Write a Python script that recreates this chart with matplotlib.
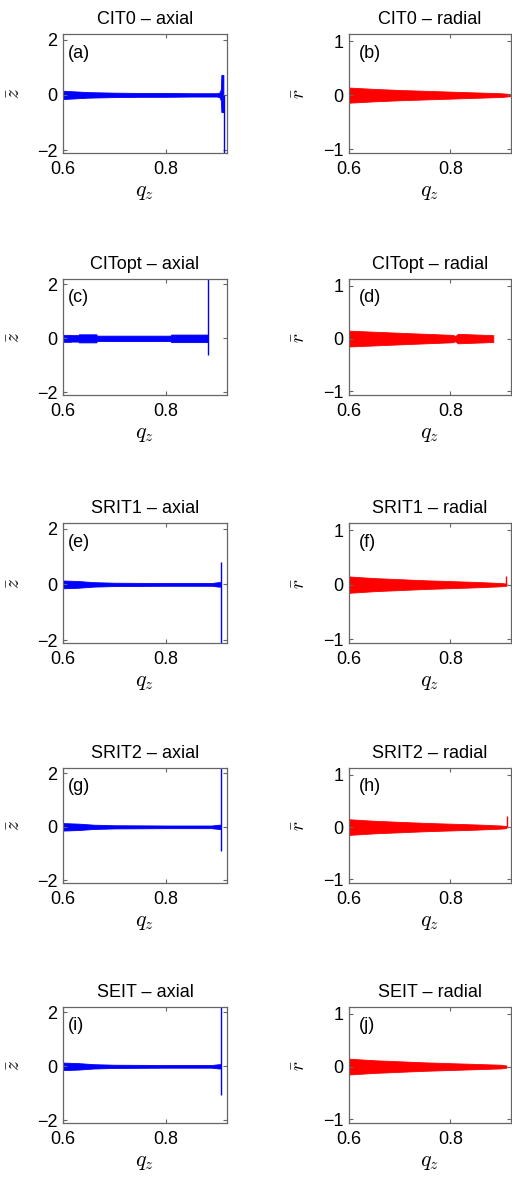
import numpy as np
import matplotlib.pyplot as plt

plt.rcParams['font.family'] = ['Liberation Sans', 'DejaVu Sans']
plt.rcParams['mathtext.fontset'] = 'cm'

# panel titles and letters
titles = ['CIT0', 'CITopt', 'SRIT1', 'SRIT2', 'SEIT']
letters_axial = ['(a)', '(c)', '(e)', '(g)', '(i)']
letters_radial = ['(b)', '(d)', '(f)', '(h)', '(j)']

# axial response envelopes (q_z, upper, lower)
qz_a = [0.600, 0.620, 0.650, 0.700, 0.750, 0.800, 0.850, 0.900, 0.905, 0.908, 0.909, 0.913]
up_a = [0.15, 0.13, 0.10, 0.08, 0.07, 0.07, 0.06, 0.06, 0.08, 0.20, 0.72, 0.72]
lo_a = [-0.15, -0.13, -0.10, -0.08, -0.07, -0.07, -0.06, -0.06, -0.08, -0.20, -0.62, -0.62]

qz_c = [0.600, 0.615, 0.616, 0.630, 0.631, 0.665, 0.666, 0.810, 0.811, 0.883]
up_c = [0.13, 0.13, 0.12, 0.12, 0.15, 0.15, 0.10, 0.10, 0.14, 0.14]
lo_c = [-v for v in up_c]

qz_e = [0.600, 0.630, 0.660, 0.700, 0.800, 0.890, 0.903, 0.907]
up_e = [0.14, 0.12, 0.08, 0.06, 0.05, 0.05, 0.08, 0.08]
lo_e = [-v for v in up_e]

qz_g = [0.600, 0.630, 0.660, 0.700, 0.800, 0.890, 0.904, 0.908]
up_g = [0.14, 0.12, 0.08, 0.06, 0.05, 0.05, 0.08, 0.08]
lo_g = [-v for v in up_g]

qz_i = [0.600, 0.630, 0.660, 0.700, 0.800, 0.890, 0.904, 0.908]
up_i = [0.14, 0.12, 0.08, 0.06, 0.05, 0.05, 0.08, 0.08]
lo_i = [-v for v in up_i]

# end spikes of the axial traces: (q_z, min, max)
spike_a = (0.9135, -2.3, 0.0)
spike_c = (0.883, -0.60, 2.4)
spike_e = (0.908, -2.3, 0.80)
spike_g = (0.909, -0.90, 2.4)
spike_i = (0.909, -1.05, 2.4)

# radial response envelopes (symmetric half-width)
qz_b = [0.600, 0.650, 0.700, 0.750, 0.800, 0.850, 0.900, 0.918]
amp_b = [0.14, 0.115, 0.095, 0.08, 0.065, 0.05, 0.035, 0.02]

qz_d = [0.600, 0.700, 0.805, 0.810, 0.815, 0.830, 0.885]
amp_d = [0.15, 0.11, 0.07, 0.05, 0.09, 0.085, 0.065]

qz_f = [0.600, 0.650, 0.700, 0.750, 0.800, 0.850, 0.900, 0.911]
amp_f = [0.15, 0.12, 0.10, 0.08, 0.065, 0.05, 0.03, 0.02]

qz_h = [0.600, 0.650, 0.700, 0.750, 0.800, 0.850, 0.900, 0.911]
amp_h = [0.15, 0.12, 0.10, 0.08, 0.065, 0.05, 0.03, 0.02]

qz_j = [0.600, 0.650, 0.700, 0.750, 0.800, 0.850, 0.900, 0.911]
amp_j = [0.15, 0.12, 0.10, 0.08, 0.065, 0.05, 0.035, 0.02]

# end spikes of the radial traces (None = no spike)
rspike_b = None
rspike_d = None
rspike_f = (0.911, 0.0, 0.16)
rspike_h = (0.912, 0.0, 0.21)
rspike_j = None

axial = [(qz_a, up_a, lo_a, spike_a), (qz_c, up_c, lo_c, spike_c),
         (qz_e, up_e, lo_e, spike_e), (qz_g, up_g, lo_g, spike_g),
         (qz_i, up_i, lo_i, spike_i)]
radial = [(qz_b, amp_b, rspike_b), (qz_d, amp_d, rspike_d),
          (qz_f, amp_f, rspike_f), (qz_h, amp_h, rspike_h),
          (qz_j, amp_j, rspike_j)]

W, H = 512, 1178
fig = plt.figure(figsize=(W / 100, H / 100), dpi=100)

tops = [34, 279, 523, 768, 1007]
bottoms = [153, 395, 643, 883, 1123]


def style(ax, ylim, yticks):
    ax.set_xlim(0.6, 0.92)
    ax.set_ylim(*ylim)
    ax.set_xticks([0.6, 0.8])
    ax.set_xticklabels(['0.6', '0.8'])
    ax.set_yticks(yticks)
    ax.set_yticklabels([str(t).replace('-', '\u2212') for t in yticks])
    ax.tick_params(direction='in', top=True, right=True, length=3,
                   width=0.8, color='0.4', labelsize=13)
    ax.tick_params(axis='x', pad=6)
    ax.tick_params(axis='y', pad=4)
    for sp in ax.spines.values():
        sp.set_color('0.4')
        sp.set_linewidth(0.9)
    ax.set_xlabel(r'$q_z$', fontsize=16, labelpad=2)


for i in range(5):
    t, b = tops[i], bottoms[i]
    # axial column
    ax = fig.add_axes([63 / W, 1 - b / H, 164 / W, (b - t) / H])
    q, up, lo, sp = axial[i]
    ax.fill_between(q, lo, up, color='b', linewidth=0.6, edgecolor='b')
    ax.vlines(sp[0], sp[1], sp[2], color='b', linewidth=1.0)
    style(ax, (-2.1, 2.2), [-2, 0, 2])
    ax.set_title(titles[i] + ' \u2013 axial', fontsize=13, pad=7)
    ax.set_ylabel(r'$\bar{z}$', fontsize=14, va='center', rotation=90)
    ax.yaxis.set_label_coords(-0.29, 0.5)
    ax.text(0.03, 0.84, letters_axial[i], transform=ax.transAxes,
            ha='left', va='center', fontsize=13)

    # radial column
    ax = fig.add_axes([349 / W, 1 - b / H, 162 / W, (b - t) / H])
    q, amp, sp = radial[i]
    amp = np.array(amp)
    ax.fill_between(q, -amp, amp, color='r', linewidth=0.6, edgecolor='r')
    if sp is not None:
        ax.vlines(sp[0], sp[1], sp[2], color='r', linewidth=1.0)
    style(ax, (-1.07, 1.13), [-1, 0, 1])
    ax.set_title(titles[i] + ' \u2013 radial', fontsize=13, pad=7)
    ax.set_ylabel(r'$\bar{r}$', fontsize=14, va='center', rotation=90)
    ax.yaxis.set_label_coords(-0.30, 0.5)
    ax.text(0.06, 0.84, letters_radial[i], transform=ax.transAxes,
            ha='left', va='center', fontsize=13)

fig.savefig('out.png', dpi=100)
